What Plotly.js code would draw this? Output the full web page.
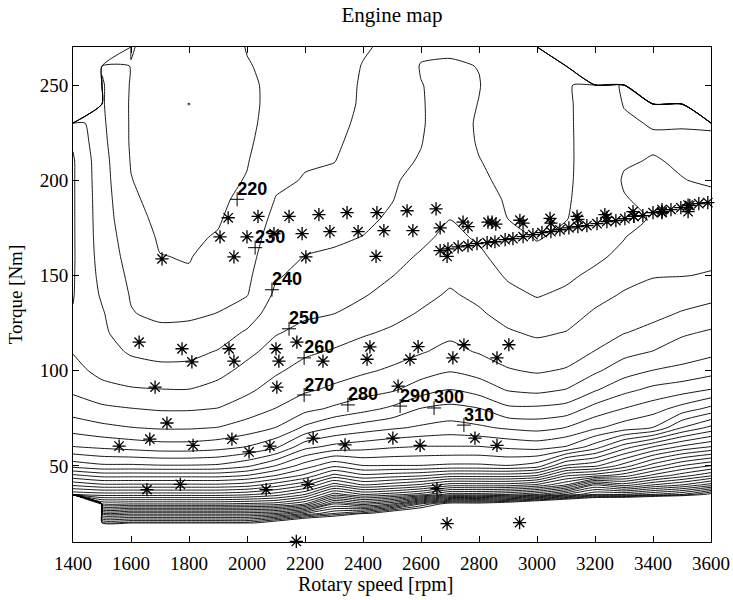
<!DOCTYPE html>
<html>
<head>
<meta charset="utf-8">
<script src="https://cdn.plot.ly/plotly-3.0.1.min.js"></script>
<style>html,body{margin:0;padding:0;background:#fff;}#chart{width:733px;height:600px;}</style>
</head>
<body>
<div id="chart"></div>
<script>
// ---- grid axes ----
const rpm = [1400,1500,1600,1700,1800,1900,2000,2100,2200,2300,2400,2500,2600,2700,2800,2900,3000,3100,3200,3300,3400,3500,3600];
const torque = [10,20,25,30,35,40,45,50,60,70,80,90,100,110,120,130,140,150,160,170,180,190,200,210,220,230,240,250,260,270];

// ---- fuel consumption map [g/kWh], one row per torque level (O = above full load, B = no data below) ----
const O = -5000, B = 5000;
const z_T010 = [B,B,B,B,B,B,B,B,B,B,B,B,B,B,B,B,B,B,B,B,B,B,B];
const z_T020 = [B,565,565,565,565,565,565,585,610,620,B,B,B,B,B,B,B,B,B,B,B,B,B];
const z_T025 = [B,505,505,505,505,505,505,510,530,550,565,590,600,B,B,B,B,B,B,B,B,B,B];
const z_T030 = [B,440,440,440,440,440,442,445,460,510,495,510,550,580,580,590,610,630,650,660,680,700,720];
const z_T035 = [398,395,395,395,395,395,398,405,420,455,440,445,455,475,475,480,490,510,530,530,540,550,575];
const z_T040 = [368,362,362,362,362,362,365,375,388,415,400,405,412,425,425,425,432,450,490,475,490,500,515];
const z_T045 = [342,336,336,336,336,336,340,350,362,383,372,375,378,385,385,385,390,418,425,435,452,465,478];
const z_T050 = [316,312,312,311,311,312,318,330.5,345,358,350.5,350.5,350.5,352,352,350.5,355,382,388,405,425,440.5,450.5];
const z_T060 = [290.3,288,286,284,284,286,290.3,298,316.7,323,326,328.8,330.5,330.5,330.5,328,326,330.5,345,365,380,392,400.3];
const z_T070 = [275.6,272.5,270.3,269,269,270.3,274.4,280.3,292,300.5,305,308.6,311.5,314,311.7,308.6,306.7,310.3,318.3,325,330.3,350.3,363];
const z_T080 = [265.5,262,260.3,259,259,260.3,265,270.3,277,281.7,286.7,292,300.5,303,300.5,292,292,294,303.8,310.3,315.7,324,333];
const z_T090 = [258.1,253.3,251,250.3,250.2,253.3,258,264.1,268.5,271.8,275.4,278.6,285,290.3,285.6,279.2,277.3,280.3,288.9,297.1,302.5,305.7,310.3];
const z_T100 = [253.3,247,244.2,242.6,242.9,246.9,253,258.6,263.5,266,268.6,271.4,275.7,279.3,276.2,270.8,268.9,270.9,278.3,285.5,290.3,292.5,296];
const z_T110 = [249.5,244,238.8,237,237.3,240.6,247.5,253.8,258.3,261,263.8,266.2,269.2,272.7,269.2,265.7,263.7,265.3,270.3,276.9,280.3,285,287.5];
const z_T120 = [249,242.3,233,232.3,232.6,235,241.3,249.3,252.6,255.5,258.9,261.4,265,267.9,265.2,261,258.6,260.3,265.6,269.6,272.9,278.5,281.3];
const z_T130 = [249.5,241,230.5,228,228.4,230.2,234.7,245.6,248.5,249.9,253.7,257.3,260.8,264.5,261.2,256.7,253.8,255.8,261.3,265.2,267.4,270.8,273.8];
const z_T140 = [250.5,238.7,229.3,224.5,224.5,227.4,229.5,241.9,245.6,247,249.1,253.5,257.4,261,257.9,252.5,249.3,251.7,256.7,260.9,263,265.3,266.9];
const z_T150 = [250.8,237.2,228,222.5,220.7,225,228,239,242.8,244,246.2,249.7,254.2,258,254.8,248.8,245.6,248.1,252.1,256.7,259.5,259.7,260.6];
const z_T160 = [251,236.1,226.5,220.2,219.6,222.7,226.5,236.8,240.2,241.2,243.2,247,251,255.2,251.8,245.7,242,244.8,248,252.5,258,256.5,258.2];
const z_T170 = [251,235.4,225,219,219,220.5,225,234.7,237.6,238.7,240.2,244.3,248,252.4,248.8,242.6,239.5,241.6,245,249.6,256.5,254,256.1];
const z_T180 = [251,235,223,218,218,219.3,223.5,232.5,235.2,236.4,238.2,241.2,245.7,249.8,245.8,239.9,238.7,239.7,243.5,248.2,250.5,252.5,253.8];
const z_T190 = [251,234.7,221.5,217,217,218.5,222,230.4,232.9,234.2,236.5,239.7,244,248.3,243.5,239,237.8,239.3,243,249.5,252,251.2,251.5];
const z_T200 = [251,234.2,220.3,216,216,217.5,220.5,228.3,230.5,232,235,239,242.5,247,241.5,238,237,239,243,250.8,252,250.2,249.2];
const z_T210 = [251,233.7,219.5,215,215,216.5,219.5,226.5,229.3,229.8,233.5,238,240.6,246,240.3,237.2,236,238.8,243.2,249.2,250.5,249.2,248.3];
const z_T220 = [249,232.6,219,214,214,215.5,218.5,225,228.5,228.8,232.5,237,239.7,245,239.2,236.5,235.5,238.7,243.5,248,249,249.3,248.5];
const z_T230 = [246,231.7,219,213.5,213,214.5,218,223.5,227.5,228,231.5,236,239.3,244,239,236,235,238.6,244,249,250.5,250.3,251];
const z_T240 = [O,231,219,213,209.85,214,218,222.5,226.5,227,231,235,239.5,243,239.8,235.5,234.5,238.5,244.5,250.3,252,251,O];
const z_T250 = [O,231,219.3,213,212.5,214,218.5,222,226,226,231,234,239.8,242,240.3,235,234,238.5,245,251,O,O,O];
const z_T260 = [O,229,219.5,213.5,213,214.5,219.5,222,225.5,225.5,230.4,233,240.5,241,239.8,234.5,233.5,238.5,O,O,O,O,O];
const z_T270 = [O,O,221,214,213.5,215,220.4,222.5,225,225,229,232,238,238.5,236,234,233,O,O,O,O,O,O];

const bsfc = [z_T010,z_T020,z_T025,z_T030,z_T035,z_T040,z_T045,z_T050,z_T060,z_T070,z_T080,z_T090,z_T100,z_T110,z_T120,z_T130,
              z_T140,z_T150,z_T160,z_T170,z_T180,z_T190,z_T200,z_T210,z_T220,z_T230,z_T240,z_T250,z_T260,z_T270];

// ---- measured operating points ----
const star_rpm = [1935,2038,2145,2248,2345,2448,2552,2652,
  1907,2000,2093,2190,2286,2383,2472,2572,2666,
  1707,1955,2203,2445,
  2745,2762,2831,
  2845,2858,2941,2952,3045,3048,3138,3141,3234,3241,3331,3334,3431,3431,3521,3521,
  2666,2690,2693,2728,2762,2793,2828,2855,2890,2917,2952,2986,3017,3048,3079,3110,3141,3172,3207,3241,3272,3303,3334,3365,3400,3431,3462,3496,3527,3558,3589,
  1628,1776,1810,1938,1955,2100,2110,2172,2262,2424,2414,2590,2562,2748,2710,2903,2862,
  1683,2103,2521,1724,
  1665,1948,2228,2503,2786,
  1559,1814,2007,2079,2338,2597,2862,
  1655,1770,2066,2210,2655,2690,2940,2170];
const star_torque = [180.3,181,181,182,183,183,184,185,
  170.3,170.3,172,172,173,173,173.5,173.5,175,
  158.7,159.8,159.8,160,
  178,175.6,178,
  178,177,179,177.5,180,177.5,181,179.5,182,180.5,183.5,181,184.6,183,187,183.5,
  163,160,164,165,165.6,166.7,167.2,167.7,168.8,169.3,170.4,171.4,172.5,173,174,175,175.7,176.2,177.2,178.3,178.8,179.8,181,181.4,183,183.5,184.6,185.6,186.7,187.7,188.3,
  115,111.5,104.6,111.5,105,111.5,105,115,105,112.5,106,112.6,106,113.6,106.7,113.6,106.7,
  91.4,91.4,91.9,72.5,
  64,64,64.6,64.6,64.6,
  60.4,60.8,57.3,60.4,61,60.8,60.8,
  37.5,40.3,37.5,40.3,38,19.6,20.2,10.3];

// ---- contour labels ----
const label_text = ['220','230','240','250','260','270','280','290','300','310'];
const label_rpm = [1966,2028,2086,2145,2197,2197,2348,2528,2645,2748];
const label_torque = [190,164.6,142.5,122,106.7,87.2,82,81.4,80.4,71.4];

const serif = 'Liberation Serif, Times New Roman, serif';

const traces = [
  {
    type: 'contour', x: rpm, y: torque, z: bsfc,
    autocontour: false,
    contours: {start: 210, end: 570, size: 10, coloring: 'none', showlines: true},
    line: {color: '#000', width: 0.9, smoothing: 0.6},
    showscale: false, hoverinfo: 'skip'
  },
  {
    type: 'scatter', mode: 'markers', x: star_rpm, y: star_torque,
    marker: {symbol: 'asterisk-open', size: 11, color: '#000', line: {color: '#000', width: 1.3}},
    cliponaxis: false, hoverinfo: 'skip'
  },
  {
    type: 'scatter', mode: 'markers', x: label_rpm, y: label_torque,
    marker: {symbol: 'cross-thin-open', size: 10, color: '#000', line: {color: '#000', width: 1}},
    hoverinfo: 'skip'
  },
  {
    type: 'scatter', mode: 'text', x: label_rpm, y: label_torque, text: label_text,
    textposition: 'top right',
    textfont: {family: 'Liberation Sans, Arial, sans-serif', size: 18, color: '#000', weight: 'bold'},
    hoverinfo: 'skip'
  }
];

const layout = {
  width: 733, height: 600,
  margin: {l: 73, r: 22, t: 47, b: 58},
  paper_bgcolor: '#fff', plot_bgcolor: '#fff',
  showlegend: false,
  title: {text: 'Engine map', font: {family: serif, size: 21, color: '#000'},
          xref: 'paper', x: 0.5, xanchor: 'center', yref: 'container', y: 0.975, yanchor: 'middle'},
  xaxis: {
    range: [1400, 3600], tick0: 1400, dtick: 200, ticks: 'inside', ticklen: 6,
    showline: true, mirror: 'ticks', linecolor: '#000', linewidth: 1, tickcolor: '#000',
    showgrid: false, zeroline: false, ticklabelstandoff: 4,
    tickfont: {family: serif, size: 19, color: '#000'}
  },
  yaxis: {
    range: [10, 270], tickvals: [50, 100, 150, 200, 250], ticks: 'inside', ticklen: 6,
    showline: true, mirror: 'ticks', linecolor: '#000', linewidth: 1, tickcolor: '#000',
    showgrid: false, zeroline: false,
    tickfont: {family: serif, size: 19, color: '#000'},
    title: {text: 'Torque [Nm]', font: {family: serif, size: 19, color: '#000'}, standoff: 12}
  },
  annotations: [{
    text: 'Rotary speed [rpm]', xref: 'paper', yref: 'paper', x: 0.475, y: -0.085,
    xanchor: 'center', yanchor: 'middle', showarrow: false,
    font: {family: serif, size: 20, color: '#000'}
  }]
};

Plotly.newPlot('chart', traces, layout, {staticPlot: true, displayModeBar: false});
</script>
</body>
</html>
